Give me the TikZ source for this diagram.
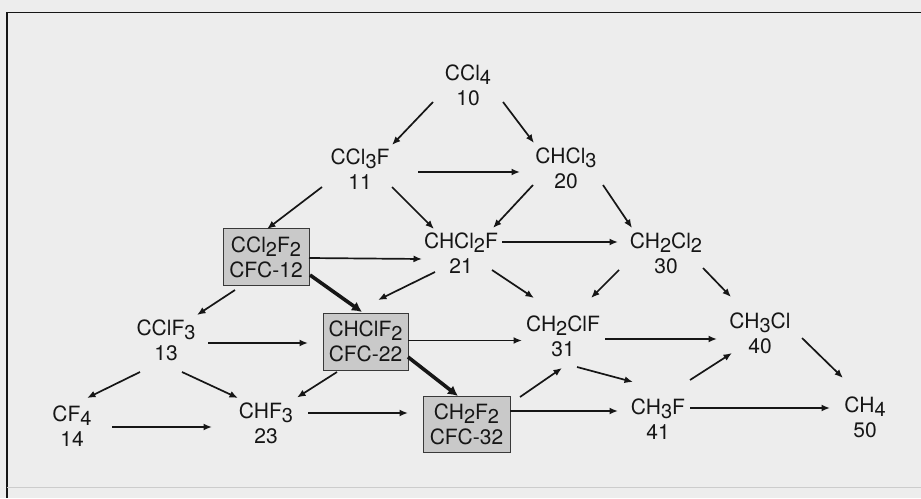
\documentclass[tikz,border=0pt]{standalone}
\usepackage{fontspec}
\setmainfont{TeX Gyre Heros}
\usetikzlibrary{arrows.meta}
\definecolor{bggray}{HTML}{EDEDED}
\definecolor{boxgray}{HTML}{C9C9C9}
\definecolor{ink}{HTML}{161616}
\newcommand\chemfont{\fontsize{21}{25}\selectfont}
\newcommand\sbd[1]{\raisebox{-4pt}{\fontsize{20}{20}\selectfont #1}}
\tikzset{
  lbl/.style={align=center, inner sep=0pt, font=\chemfont, text=ink},
  cfcbox/.style={lbl, draw=ink!85, line width=1pt, fill=boxgray, minimum height=57pt},
  arr/.style={draw=ink, line width=1.7pt, -{Latex[length=8.5pt,width=7pt]}},
  thickarr/.style={draw=ink, line width=3.6pt, -{Latex[length=10pt,width=10.5pt]}},
}
\newcommand\at[3]{([shift={(#2,#3)}]#1.center)}
\begin{document}
\begin{tikzpicture}[x=1pt,y=-1pt]
\useasboundingbox (0,0) rectangle (921,498);
\fill[bggray] (0,0) rectangle (921,498);
% frame
\draw[ink, line width=1.2pt] (921,12.5) -- (7,12.5) -- (7,498);
\draw[black!20, line width=0.8pt] (7,487) -- (921,487);
% nodes
\node[lbl] (n10) at (468,85) {CCl\sbd{4}\\10};
\node[lbl] (n11) at (360,169) {CCl\sbd{3}F\\11};
\node[lbl] (n20) at (566,168) {CHCl\sbd{3}\\20};
\node[lbl] (n21) at (461,253) {CHCl\sbd{2}F\\21};
\node[lbl] (n30) at (666,253) {CH\sbd{2}Cl\sbd{2}\\30};
\node[cfcbox, minimum width=86pt] (n12) at (266,257) {CCl\sbd{2}F\sbd{2}\\CFC-12};
\node[lbl] (n13) at (166,340) {CClF\sbd{3}\\13};
\node[cfcbox, minimum width=85pt] (n22) at (365.5,341.5) {CHClF\sbd{2}\\CFC-22};
\node[lbl] (n31) at (563,336) {CH\sbd{2}ClF\\31};
\node[lbl] (n40) at (760,333) {CH\sbd{3}Cl\\40};
\node[lbl] (n14) at (72,426) {CF\sbd{4}\\14};
\node[lbl] (n23) at (266,423) {CHF\sbd{3}\\23};
\node[cfcbox, minimum width=87pt, minimum height=56pt] (n32) at (466.5,424) {CH\sbd{2}F\sbd{2}\\CFC-32};
\node[lbl] (n41) at (658,419) {CH\sbd{3}F\\41};
\node[lbl] (n50) at (865,417) {CH\sbd{4}\\50};
% connectors
\draw[arr] \at{n10}{-35}{17} -- \at{n11}{32}{-24};
\draw[arr] \at{n10}{35}{17} -- \at{n20}{-32}{-25};
\draw[arr] \at{n11}{58}{3} -- \at{n20}{-46}{4};
\draw[arr] \at{n11}{-38}{18} -- \at{n12}{1}{-28};
\draw[arr] \at{n11}{32}{18} -- \at{n21}{-27}{-24};
\draw[arr] \at{n20}{-33}{17} -- \at{n21}{32}{-25};
\draw[arr] \at{n20}{37}{17} -- \at{n30}{-34}{-25};
\draw[arr] \at{n21}{41}{-11} -- \at{n30}{-48}{-11};
\draw[arr] \at{n12}{43}{1} -- \at{n21}{-39}{6};
\draw[thickarr] \at{n12}{44}{18} -- \at{n22}{-3.5}{-29.5};
\draw[arr] \at{n21}{-26}{19} -- \at{n22}{12.5}{-41.5};
\draw[arr] \at{n21}{31}{17} -- \at{n31}{-29}{-38};
\draw[arr] \at{n30}{-47}{17} -- \at{n31}{28}{-38};
\draw[arr] \at{n30}{37}{15} -- \at{n40}{-29}{-36};
\draw[arr] \at{n12}{-31}{33} -- \at{n13}{31}{-25};
\draw[arr] \at{n13}{42}{3} -- \at{n22}{-57.5}{1.5};
\draw[arr] \at{n22}{42.5}{-1} -- \at{n31}{-41}{4.5};
\draw[thickarr] \at{n22}{42.5}{15.5} -- \at{n32}{-8.5}{-28};
\draw[arr] \at{n22}{-28.5}{30.5} -- \at{n23}{31}{-25.5};
\draw[arr] \at{n13}{-26}{32} -- \at{n14}{15}{-28};
\draw[arr] \at{n13}{16}{32} -- \at{n23}{-28}{-25};
\draw[arr] \at{n14}{40}{1} -- \at{n23}{-54}{4};
\draw[arr] \at{n23}{42}{-10} -- \at{n32}{-58.5}{-11};
\draw[arr] \at{n31}{42}{3} -- \at{n40}{-43}{6};
\draw[arr] \at{n31}{14}{31} -- \at{n41}{-25}{-37};
\draw[arr] \at{n32}{53.5}{-27} -- \at{n31}{-1}{32};
\draw[arr] \at{n32}{43.5}{-13} -- \at{n41}{-40}{-8};
\draw[arr] \at{n41}{32}{-39} -- \at{n40}{-28}{20};
\draw[arr] \at{n40}{42}{5} -- \at{n50}{-22}{-39};
\draw[arr] \at{n41}{32}{-11} -- \at{n50}{-35}{-9};
\end{tikzpicture}
\end{document}
